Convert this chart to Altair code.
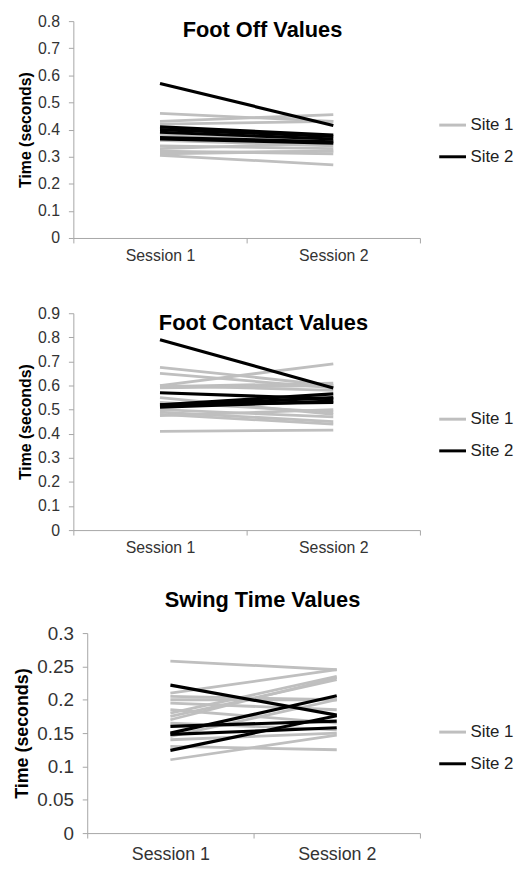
import altair as alt
import pandas as pd

FONT = "Liberation Sans"
sessions = ["Session 1", "Session 2"]
sites = ["Site 1", "Site 2"]
site_colors = ["#bfbfbf", "#000000"]

# Foot Off Values
fo_site1_s1 = [0.46, 0.43, 0.42, 0.38, 0.36, 0.34, 0.33, 0.32, 0.315, 0.31, 0.305]
fo_site1_s2 = [0.43, 0.455, 0.43, 0.36, 0.34, 0.33, 0.35, 0.31, 0.32, 0.32, 0.27]
fo_site2_s1 = [0.57, 0.41, 0.40, 0.39, 0.37, 0.365]
fo_site2_s2 = [0.415, 0.38, 0.375, 0.365, 0.355, 0.35]
fo_ticks = [0, 0.1, 0.2, 0.3, 0.4, 0.5, 0.6, 0.7, 0.8]

# Foot Contact Values
fc_site1_s1 = [0.675, 0.65, 0.60, 0.595, 0.59, 0.60, 0.55, 0.53, 0.50, 0.49, 0.48, 0.475, 0.41]
fc_site1_s2 = [0.60, 0.59, 0.69, 0.61, 0.60, 0.58, 0.48, 0.49, 0.47, 0.45, 0.44, 0.50, 0.415]
fc_site2_s1 = [0.79, 0.57, 0.52, 0.515, 0.51, 0.52]
fc_site2_s2 = [0.59, 0.545, 0.565, 0.55, 0.535, 0.53]
fc_ticks = [0, 0.1, 0.2, 0.3, 0.4, 0.5, 0.6, 0.7, 0.8, 0.9]

# Swing Time Values
sw_site1_s1 = [0.258, 0.21, 0.205, 0.2, 0.195, 0.185, 0.18, 0.175, 0.17, 0.165, 0.145, 0.14, 0.13, 0.11]
sw_site1_s2 = [0.245, 0.245, 0.2, 0.2, 0.185, 0.165, 0.235, 0.23, 0.233, 0.155, 0.2, 0.15, 0.125, 0.147]
sw_site2_s1 = [0.222, 0.15, 0.16, 0.148, 0.124]
sw_site2_s2 = [0.177, 0.206, 0.168, 0.158, 0.176]
sw_ticks = [0, 0.05, 0.1, 0.15, 0.2, 0.25, 0.3]


def long_df(s1a, s2a, s1b, s2b):
    rows = []
    for site, s1, s2 in (("Site 1", s1a, s2a), ("Site 2", s1b, s2b)):
        for i, (a, b) in enumerate(zip(s1, s2)):
            sid = f"{site}-{i}"
            rows.append({"subject": sid, "site": site, "session": sessions[0], "value": a})
            rows.append({"subject": sid, "site": site, "session": sessions[1], "value": b})
    return pd.DataFrame(rows)


def panel(df, title, ymax, yticks, height, tick_fs, xtick_fs, ytitle_fs, ypad,
          title_dx, title_offset, ly, xlab_pad, x_range, y_offset, xtitle):
    color = alt.Color(
        "site:N",
        scale=alt.Scale(domain=sites, range=site_colors),
        legend=alt.Legend(
            title=None, orient="none", legendX=368, legendY=ly,
            symbolType="stroke", symbolSize=729, symbolStrokeWidth=3,
            labelFontSize=17, labelFont=FONT, labelColor="#222222",
            labelOffset=3, rowPadding=9,
        ),
    )
    xaxis = dict(
        labelAngle=0, tickBand="extent", labelFontSize=xtick_fs,
        labelFont=FONT, labelColor="#333333", domainColor="#a6a6a6",
        tickColor="#a6a6a6", tickSize=5, labelPadding=xlab_pad, grid=False,
    )
    if xtitle is None:
        xaxis["title"] = None
    else:
        xaxis.update(title=xtitle, titleFontSize=8, titlePadding=0)
    x = alt.X(
        "session:N",
        scale=alt.Scale(type="band", domain=sessions, range=x_range,
                        paddingInner=0, paddingOuter=0),
        axis=alt.Axis(**xaxis),
    )
    y = alt.Y(
        "value:Q",
        scale=alt.Scale(domain=[0, ymax], nice=False),
        axis=alt.Axis(
            title="Time (seconds)", values=yticks, format="~g", grid=False,
            labelFontSize=tick_fs, labelFont=FONT, labelColor="#333333",
            titleFont=FONT, titleFontSize=ytitle_fs, titleFontWeight="bold",
            titleColor="#000000", titlePadding=ypad, labelPadding=9,
            tickSize=5, domainColor="#a6a6a6", tickColor="#a6a6a6",
            offset=y_offset,
        ),
    )
    base = alt.Chart(df).encode(x=x, y=y, color=color, detail="subject:N")
    grey = base.transform_filter(alt.datum.site == "Site 1").mark_line(strokeWidth=2.8)
    black = base.transform_filter(alt.datum.site == "Site 2").mark_line(strokeWidth=3.2)
    return alt.layer(grey, black).properties(
        width=350, height=height,
        title=alt.TitleParams(
            text=title, font=FONT, fontSize=22, fontWeight="bold", color="#000000",
            anchor="middle", frame="group", dx=title_dx, offset=title_offset,
        ),
    )


p1 = panel(long_df(fo_site1_s1, fo_site1_s2, fo_site2_s1, fo_site2_s2),
           "Foot Off Values", 0.8, fo_ticks, 219, 16, 16, 16, 4,
           16, -29.5, 90, 5, [0, 350], 0, " ")
p2 = panel(long_df(fc_site1_s1, fc_site1_s2, fc_site2_s1, fc_site2_s2),
           "Foot Contact Values", 0.9, fc_ticks, 219, 16, 16, 16, 4,
           17, -29.5, 92, 5, [0, 350], 0, None)
p3 = panel(long_df(sw_site1_s1, sw_site1_s2, sw_site2_s1, sw_site2_s2),
           "Swing Time Values", 0.3, sw_ticks, 202, 19, 18, 18, 5,
           16, 12, 85, 8, [14, 350], -14, None)

chart = alt.concat(p1, p2, p3, columns=1, spacing=34).resolve_scale(
    color="independent").resolve_legend(color="independent").properties(
    padding={"left": 6, "top": 1, "right": 0, "bottom": 0}
).configure_view(stroke=None)

chart.save("out.html", embed_options={"renderer": "svg", "actions": False})
